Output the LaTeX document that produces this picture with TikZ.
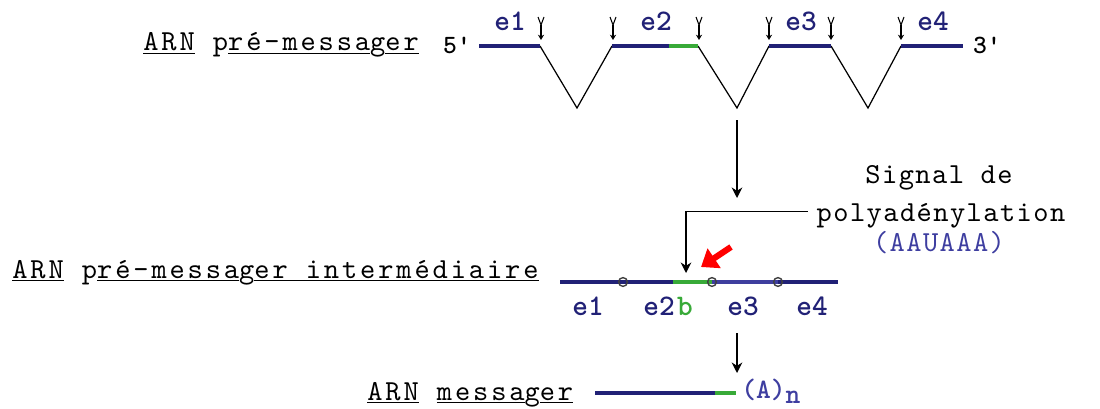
\documentclass[tikz,border=0pt]{standalone}
\usepackage{fontspec}
\usetikzlibrary{arrows.meta}

\newfontfamily\courfont{lmmono10-regular.otf}[LetterSpace=10]
\newfontfamily\sigfont{lmmono10-regular.otf}[LetterSpace=5]
\newfontfamily\courbold{lmmonolt10-bold.otf}

\definecolor{exonblue}{RGB}{33,33,118}
\definecolor{exonlight}{RGB}{62,62,158}
\definecolor{polygreen}{RGB}{56,170,56}
\definecolor{seqblue}{RGB}{62,62,160}

\tikzset{
  lbl/.style={font=\courfont\fontsize{16.5}{19}\selectfont, inner sep=0pt, anchor=base west},
  sig/.style={font=\sigfont\fontsize{16.5}{19}\selectfont, inner sep=0pt, anchor=base},
  exlbl/.style={font=\courbold\fontsize{17}{19}\selectfont, text=exonblue, inner sep=0pt, anchor=base},
  endlbl/.style={font=\courbold\fontsize{15}{17}\selectfont, inner sep=0pt, anchor=base},
  exon/.style={exonblue, line width=2.6pt},
  polya/.style={polygreen, line width=2.6pt},
  intron/.style={line width=0.7pt},
  junc/.style={circle, draw=black!75, line width=0.8pt, inner sep=0pt, minimum size=5pt},
  cut/.style={line width=0.6pt},
}

\newcommand{\ul}[1]{\underline{#1}}

\begin{document}
\begin{tikzpicture}[x=0.02cm, y=-0.02cm]

\useasboundingbox (0,0) rectangle (1100,409);

% pre-messager, introns en V
\node[lbl] (premsg) at (143,51) {\ul{ARN} p\ul{ré-messa}g\ul{er}};
\node[endlbl] (five) at (457,53) {5\textquotesingle};
\node[endlbl] (three) at (987,53) {3\textquotesingle};

\draw[intron] (540,46)--(577,108)--(612,46);
\draw[intron] (698,46)--(737,108)--(769,46);
\draw[intron] (831,46)--(868,108)--(901,46);

\draw[exon] (479,46)--(540,46);
\draw[exon] (612,46)--(669,46);
\draw[polya] (669,46)--(698,46);
\draw[exon] (769,46)--(831,46);
\draw[exon] (901,46)--(963,46);

\node[exlbl] (e1t) at (510,31) {e1};
\node[exlbl] (e2t) at (656,31) {e2};
\node[exlbl] (e3t) at (801,31) {e3};
\node[exlbl] (e4t) at (933,31) {e4};

\foreach \m in {541,613,699,769,831,901}{% sites d'epissage
    \draw[cut] (\m-3,17)--(\m,25)--(\m+3,17);
    \draw[cut,-{Stealth[length=3pt,width=3.5pt]}] (\m,25)--(\m,40);}

\coordinate (vbot) at (737,120);
\coordinate (vmid) at (737,198);
\draw[line width=0.7pt,-{Stealth[length=6pt,width=6pt]}] (vbot)--(vmid);

% signal
\node[sig] (sig1) at (939,183) {Signal de};
\node[sig] (sig2) at (941,221) {polyadénylation};
\node[sig, text=seqblue] (sig3) at (939,251) {(AAUAAA)};

\coordinate (pas) at (686,273);
\draw[line width=0.7pt,-{Stealth[length=6pt,width=6pt]}] ([xshift=-5pt,yshift=2pt]sig2.west) -| (pas);

\coordinate (rtail) at (731,247);
\coordinate (rtip) at (701,267);
\draw[red, line width=3.5pt,-{Triangle[length=9pt,width=13pt]}] (rtail)--(rtip);

% intermediaire
\node[lbl] (inter) at (12,278) {\ul{ARN} p\ul{ré-messa}g\ul{er intermédiaire}};

\draw[exon] (560,282)--(673,282);
\draw[polya] (673,282)--(712,282);
\draw[exonlight, line width=2.6pt] (712,282)--(778,282);
\draw[exon] (778,282)--(838,282);

\node[junc] (j1) at (623,282) {};
\node[junc] (j2) at (712,282) {};
\node[junc] (j3) at (778,282) {};

\node[exlbl] (e1m) at (588,315) {e1};
\node[exlbl] (e2m) at (659,315) {e2};
\node[exlbl, text=polygreen] (bm) at (685,315) {b};
\node[exlbl] (e3m) at (743,315) {e3};
\node[exlbl] (e4m) at (812,315) {e4};

\coordinate (vlow) at (737,333);
\coordinate (vend) at (737,373);
\draw[line width=0.7pt,-{Stealth[length=6pt,width=6pt]}] (vlow)--(vend);

% messager
\node[lbl] (msg) at (367,400) {\ul{ARN} \ul{messa}g\ul{er}};
\draw[exon] (595,393)--(715,393);
\draw[polya] (715,393)--(736,393);
\node[font=\courbold\fontsize{16}{18}\selectfont, text=seqblue, inner sep=0pt, anchor=base west] (polyA) at (741,398) {(A)\raisebox{-3pt}{n}};

\end{tikzpicture}
\end{document}
